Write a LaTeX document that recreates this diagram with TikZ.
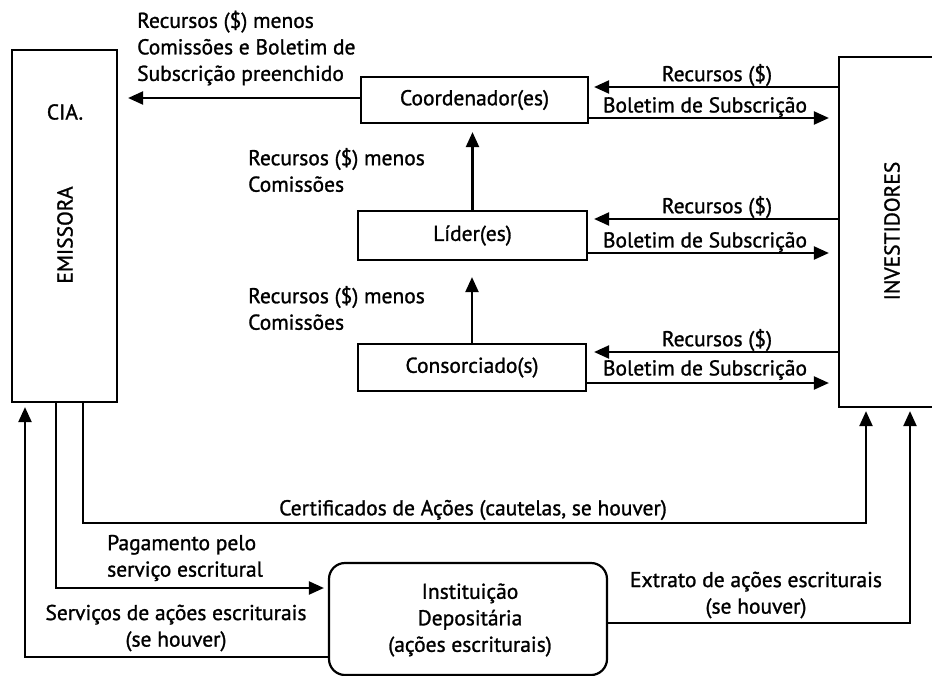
\documentclass[tikz,border=0pt]{standalone}
\usepackage{fontspec}
\setmainfont{PT Sans}[FakeBold=1.2]
\usetikzlibrary{arrows.meta}
\begin{document}
\begin{tikzpicture}[x=1pt,y=-1pt,
  box/.style={draw,line width=2.2pt,inner sep=0pt},
  lbl/.style={font=\fontsize{21.5}{26.5}\selectfont,inner sep=0pt},
  arr/.style={line width=2.2pt,-{Triangle[length=15pt,width=13pt]}},
  ln/.style={line width=2.2pt}]
\useasboundingbox (0,0) rectangle (932,675);
% boxes
\node[box,minimum width=105pt,minimum height=352pt] (emi) at (64.5,226) {};
\node[box,minimum width=130pt,minimum height=350pt] (inv) at (904,232) {};
\node[box,minimum width=227pt,minimum height=46pt] (coord) at (474.5,100) {};
\node[box,minimum width=229pt,minimum height=49pt] (lid) at (472.5,235.5) {};
\node[box,minimum width=228pt,minimum height=47pt] (cons) at (472,367.5) {};
\node[box,rounded corners=16pt,minimum width=278pt,minimum height=112pt] (inst) at (468,619) {};
% box texts
\node[lbl] (tcia) at (65,112) {CIA.};
\node[lbl,rotate=90] (temi) at (65,235) {EMISSORA};
\node[lbl,rotate=90] (tinv) at (892,231) {INVESTIDORES};
\node[lbl] (tcoord) at (coord) {Coordenador(es)};
\node[lbl] (tlid) at (lid) {Líder(es)};
\node[lbl] (tcons) at (cons) {Consorciado(s)};
\node[lbl,align=center] (tinst) at (470,620) {Instituição\\Depositária\\(ações escriturais)};
% y levels
\coordinate (y1r) at (0,87);  \coordinate (y1b) at (0,118);
\coordinate (y2r) at (0,219); \coordinate (y2b) at (0,253);
\coordinate (y3r) at (0,352); \coordinate (y3b) at (0,383);
% right arrows
\draw[arr,shorten >=5pt] (inv.west |- y1r) -- (coord.east |- y1r);
\draw[arr,shorten >=9pt] (coord.east |- y1b) -- (inv.west |- y1b);
\draw[arr,shorten >=6pt] (inv.west |- y2r) -- (lid.east |- y2r);
\draw[arr,shorten >=9pt] (lid.east |- y2b) -- (inv.west |- y2b);
\draw[arr,shorten >=7pt] (inv.west |- y3r) -- (cons.east |- y3r);
\draw[arr,shorten >=9pt] (cons.east |- y3b) -- (inv.west |- y3b);
% vertical arrows
\draw[arr,shorten >=8pt] (lid.north) -- (lid.north |- coord.south);
\draw[arr,shorten >=16pt] (cons.north) -- (cons.north |- lid.south);
% to emissora
\coordinate (y0) at (0,98);
\draw[arr,shorten >=10pt] (coord.west |- y0) -- (emi.east |- y0);
% bottom
\coordinate (p1) at (25,657);
\draw[arr,shorten >=4pt] (inst.west |- p1) -- (p1) -- (p1 |- emi.south);
\coordinate (p2) at (56,588);
\draw[arr,shorten >=4pt] (p2 |- emi.south) -- (p2) -- (inst.west |- p2);
\coordinate (p3) at (83,523); \coordinate (p4) at (866,523);
\draw[arr,shorten >=3pt] (p3 |- emi.south) -- (p3) -- (p4) -- (p4 |- inv.south);
\coordinate (p5) at (910,623);
\draw[arr,shorten >=3pt] (inst.east |- p5) -- (p5) -- (p5 |- inv.south);
% labels
\node[lbl,align=left,anchor=west] (l0) at (137,48) {Recursos (\$) menos\\Comissões e Boletim de\\Subscrição preenchido};
\node[lbl] (r1) at (717,75) {Recursos (\$)};
\node[lbl] (b1) at (705,107) {Boletim de Subscrição};
\node[lbl] (r2) at (717,207) {Recursos (\$)};
\node[lbl] (b2) at (705,242) {Boletim de Subscrição};
\node[lbl] (r3) at (717,340) {Recursos (\$)};
\node[lbl] (b3) at (705,370) {Boletim de Subscrição};
\node[lbl,align=left,anchor=west] (m1) at (248,170) {Recursos (\$) menos\\Comissões};
\node[lbl,align=left,anchor=west] (m2) at (248,308) {Recursos (\$) menos\\Comissões};
\node[lbl] (lc) at (473,510) {Certificados de Ações (cautelas, se houver)};
\node[lbl,align=left,anchor=west] (lp) at (107,558) {Pagamento pelo\\serviço escritural};
\node[lbl,align=center] (ls) at (176,628) {Serviços de ações escriturais\\(se houver)};
\node[lbl,align=center] (le) at (756,595) {Extrato de ações escriturais\\(se houver)};
\end{tikzpicture}
\end{document}
